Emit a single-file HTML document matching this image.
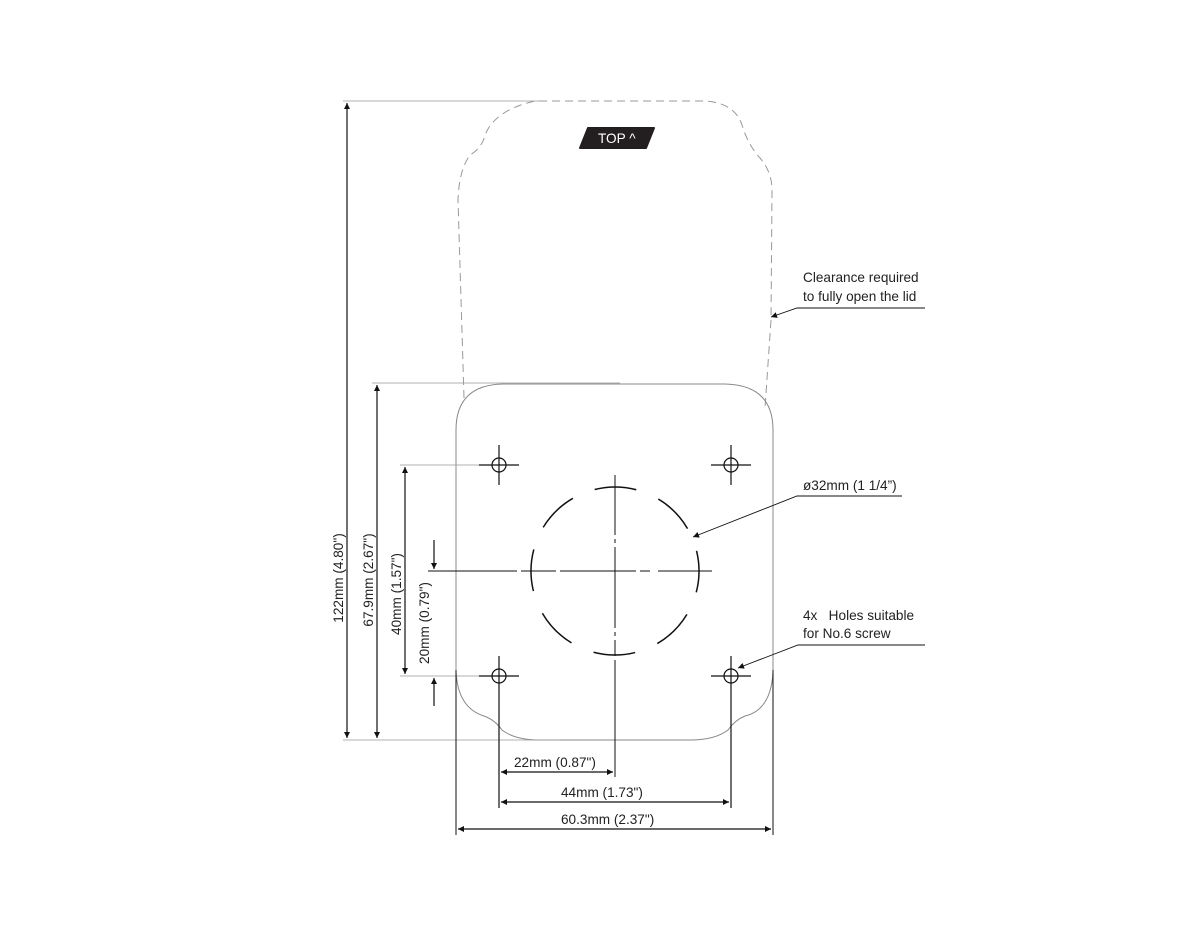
<!DOCTYPE html>
<html><head><style>
html,body{margin:0;padding:0;background:#fff;}
svg{display:block;}
text{font-family:"Liberation Sans",sans-serif;font-size:13.6px;fill:#222;}
</style></head><body>
<svg width="1200" height="950" viewBox="0 0 1200 950" xmlns="http://www.w3.org/2000/svg">
<defs>
<marker id="a" viewBox="0 0 10 10" refX="10" refY="5" markerWidth="9" markerHeight="6" orient="auto-start-reverse" markerUnits="userSpaceOnUse"><path d="M0,0 L10,5 L0,10 z" fill="#111"/></marker>
</defs>
<!-- dashed lid -->
<path d="M464,398 L458,200 Q459,170 470,155 Q482,148 485,135 Q495,110 535,101 L705,101 Q735,103 742,125 Q748,145 760,158 Q772,172 772,190 L771,320 L765,408" fill="none" stroke="#999" stroke-width="1" stroke-dasharray="8,5"/>
<!-- TOP label -->
<path d="M588,128 L654,128 L646,148 L580,148 Z" fill="#231f20" stroke="#231f20" stroke-width="2" stroke-linejoin="round"/>
<text x="598" y="143" style="fill:#fff;font-size:13.6px">TOP ^</text>
<!-- base outline -->
<path d="M456,672 L456,430 Q456,385 503,384 L725,384 Q773,385 773,430 L773,672 Q771,710 745,716 Q735,720 728,730 Q715,740 690,740 L540,740 Q515,740 502,730 Q495,720 484,716 Q458,708 456,672 Z" fill="none" stroke="#888" stroke-width="1"/>
<!-- extension lines (grey) -->
<g stroke="#999" stroke-width="0.8">
<line x1="343" y1="101" x2="540" y2="101"/>
<line x1="372" y1="383" x2="620" y2="383"/>
<line x1="400" y1="465" x2="480" y2="465"/>
<line x1="400" y1="676" x2="480" y2="676"/>
<line x1="343" y1="740" x2="560" y2="740"/>
</g>
<!-- holes -->
<g stroke="#111" stroke-width="1.2" fill="none">
<circle cx="499" cy="465" r="7"/><line x1="479" y1="465" x2="519" y2="465"/><line x1="499" y1="445" x2="499" y2="485"/>
<circle cx="731" cy="465" r="7"/><line x1="711" y1="465" x2="751" y2="465"/><line x1="731" y1="445" x2="731" y2="485"/>
<circle cx="499" cy="676" r="7"/><line x1="479" y1="676" x2="519" y2="676"/><line x1="499" y1="656" x2="499" y2="808"/>
<circle cx="731" cy="676" r="7"/><line x1="711" y1="676" x2="751" y2="676"/><line x1="731" y1="656" x2="731" y2="808"/>
</g>
<!-- dashed circle -->
<circle cx="615" cy="571" r="84" fill="none" stroke="#111" stroke-width="1.5" stroke-dasharray="42,24" transform="rotate(-104 615 571)"/>
<!-- center lines -->
<g stroke="#111" stroke-width="1">
<line x1="615" y1="475" x2="615" y2="777" stroke-dasharray="60,4,4,4,81,4,4,4,16,4,200"/>
<line x1="428" y1="571" x2="712" y2="571" stroke-dasharray="89,4,35,4,76,4,10,8,80"/>
<line x1="456" y1="670" x2="456" y2="835"/>
<line x1="773" y1="670" x2="773" y2="835"/>
</g>
<!-- dimension arrows -->
<g stroke="#111" stroke-width="1.2" fill="none">
<line x1="347" y1="103" x2="347" y2="738" marker-start="url(#a)" marker-end="url(#a)"/>
<line x1="377" y1="385" x2="377" y2="738" marker-start="url(#a)" marker-end="url(#a)"/>
<line x1="405" y1="467" x2="405" y2="674" marker-start="url(#a)" marker-end="url(#a)"/>
<line x1="434" y1="540" x2="434" y2="569" marker-end="url(#a)"/>
<line x1="434" y1="706" x2="434" y2="678" marker-end="url(#a)"/>
<line x1="501" y1="772" x2="613" y2="772" marker-start="url(#a)" marker-end="url(#a)"/>
<line x1="501" y1="802" x2="729" y2="802" marker-start="url(#a)" marker-end="url(#a)"/>
<line x1="458" y1="829" x2="771" y2="829" marker-start="url(#a)" marker-end="url(#a)"/>
</g>
<!-- leaders -->
<g stroke="#111" stroke-width="0.9" fill="none">
<polyline points="925,308 797,308 771,317" marker-end="url(#a)"/>
<polyline points="902,496 797,496 693,537" marker-end="url(#a)"/>
<polyline points="925,645 798,645 738,668" marker-end="url(#a)"/>
</g>
<!-- labels -->
<text x="803" y="282">Clearance required</text>
<text x="803" y="301">to fully open the lid</text>
<text x="803" y="490">ø32mm (1 1/4”)</text>
<text x="803" y="620">4x&#160;&#160; Holes suitable</text>
<text x="803" y="638">for No.6 screw</text>
<text x="514" y="767">22mm (0.87")</text>
<text x="561" y="797">44mm (1.73")</text>
<text x="561" y="824">60.3mm (2.37")</text>
<text transform="translate(343,578) rotate(-90)" text-anchor="middle">122mm (4.80")</text>
<text transform="translate(373,580) rotate(-90)" text-anchor="middle">67.9mm (2.67")</text>
<text transform="translate(401,594) rotate(-90)" text-anchor="middle">40mm (1.57")</text>
<text transform="translate(429,623) rotate(-90)" text-anchor="middle">20mm (0.79")</text>
</svg>
</body></html>
